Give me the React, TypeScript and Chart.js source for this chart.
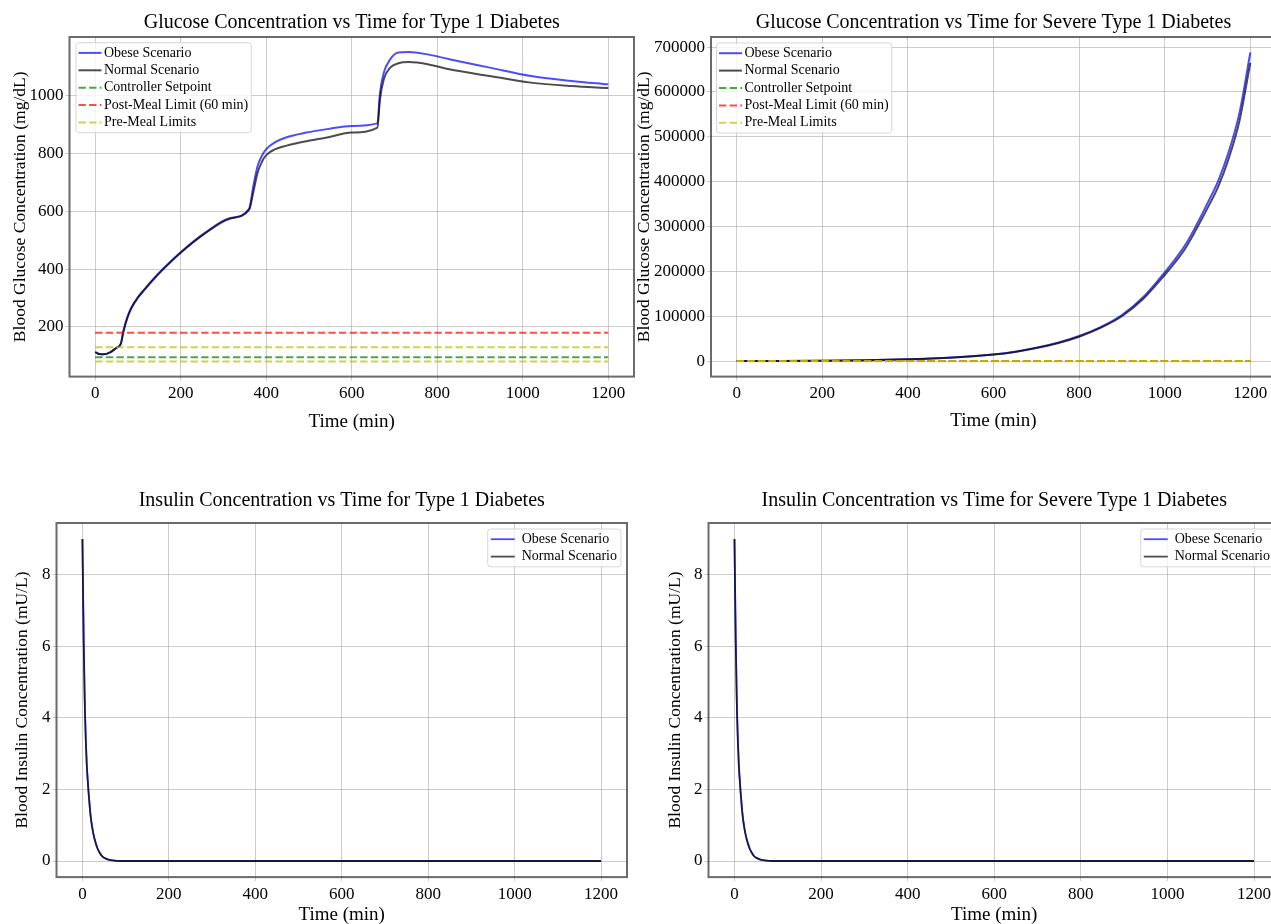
import React, { useEffect, useRef } from 'react';
import { Chart, registerables } from 'chart.js';

Chart.register(...registerables);

const FONT = '"Liberation Serif", "Times New Roman", Times, serif';

// ---------- Data ----------
const xTicks = [0, 200, 400, 600, 800, 1000, 1200];

// Glucose, Type 1 diabetes
const t1Time = [0, 10, 20, 35, 50, 60, 66, 75, 85, 100, 115, 130, 160, 200, 256, 313, 360, 370, 380, 390, 400, 420, 446, 494, 542, 600, 660, 666, 675, 690, 709, 733, 780, 828, 923, 1019, 1114, 1200];
const t1Obese = [113, 106, 105, 112, 128, 142, 185, 232, 268, 303, 330, 356, 403, 459, 525, 576, 609, 689, 758, 793, 816, 839, 856, 873, 885, 896, 905, 1011, 1081, 1127, 1150, 1152, 1143, 1127, 1098, 1069, 1052, 1040];
const t1Normal = [113, 106, 105, 112, 128, 141, 183, 230, 266, 301, 328, 354, 401, 457, 523, 574, 606, 668, 735, 772, 795, 815, 827, 843, 856, 873, 890, 988, 1058, 1098, 1113, 1117, 1109, 1092, 1069, 1046, 1034, 1027];
const t1GlucoseTicks = [200, 400, 600, 800, 1000];

// Glucose, severe Type 1 diabetes
const sevTime = [0, 100, 200, 300, 400, 500, 600, 650, 700, 750, 800, 850, 900, 950, 1000, 1025, 1050, 1075, 1100, 1125, 1150, 1175, 1200];
const sevObese = [110, 400, 1000, 2100, 4300, 8000, 15000, 21000, 30000, 41000, 56000, 76000, 103000, 143000, 198000, 228000, 262000, 305000, 352000, 402000, 468000, 555000, 688000];
const sevNormal = [110, 390, 980, 2050, 4200, 7800, 14600, 20500, 29200, 40000, 54500, 74000, 100000, 139000, 192000, 221000, 254000, 296000, 341000, 389000, 453000, 537000, 665000];
const sevGlucoseTicks = [0, 100000, 200000, 300000, 400000, 500000, 600000, 700000];

// Reference limits (mg/dL)
const limitSpan = [0, 1200];
const controllerSetpoint = 95;
const postMealLimit = 180;
const preMealLimits = [130, 80];

// Insulin
const insTime = [0, 1, 2, 3, 4, 5, 6, 8, 10, 12, 14, 17, 20, 25, 30, 35, 40, 45, 50, 60, 70, 80, 100, 200, 400, 600, 800, 1000, 1200];
const insObese = [9.0, 8.0, 7.0, 6.1, 5.4, 4.7, 4.1, 3.3, 2.7, 2.3, 1.95, 1.5, 1.15, 0.78, 0.53, 0.35, 0.23, 0.14, 0.09, 0.04, 0.015, 0.005, 0, 0, 0, 0, 0, 0, 0];
const insNormal = [9.0, 8.0, 7.0, 6.1, 5.4, 4.7, 4.1, 3.3, 2.7, 2.3, 1.95, 1.5, 1.15, 0.78, 0.53, 0.35, 0.23, 0.14, 0.09, 0.04, 0.015, 0.005, 0, 0, 0, 0, 0, 0, 0];
const sevInsObese = [9.0, 8.0, 7.0, 6.1, 5.4, 4.7, 4.1, 3.3, 2.7, 2.3, 1.95, 1.5, 1.15, 0.78, 0.53, 0.35, 0.23, 0.14, 0.09, 0.04, 0.015, 0.005, 0, 0, 0, 0, 0, 0, 0];
const sevInsNormal = [9.0, 8.0, 7.0, 6.1, 5.4, 4.7, 4.1, 3.3, 2.7, 2.3, 1.95, 1.5, 1.15, 0.78, 0.53, 0.35, 0.23, 0.14, 0.09, 0.04, 0.015, 0.005, 0, 0, 0, 0, 0, 0, 0];
const insulinTicks = [0, 2, 4, 6, 8];

// ---------- Styles ----------
const BLUE = 'rgba(0,0,255,0.7)';
const BLACK = 'rgba(0,0,0,0.7)';
const GREEN = 'rgba(0,128,0,0.7)';
const RED = 'rgba(255,0,0,0.7)';
const YELLOW = 'rgba(191,191,0,0.7)';
const GRID = 'rgba(170,170,170,0.6)';
const FRAME = 'rgba(70,70,70,0.8)';
const DASH = [7.4, 3.2];

const TITLE_SIZE = 20;
const TICK_SIZE = 17;
const XLABEL_SIZE = 19;
const YLABEL_SIZE = 17.5;
const LEGEND_SIZE = 14;
const LH = 1.2;

const pts = (xs: number[], ys: number[]) => xs.map((x, i) => ({ x, y: ys[i] }));

type LegendItem = { label: string; color: string; dash?: number[]; width: number };

const framePlugin = {
  id: 'frameAndLegend',
  afterDraw(chart: any, _args: any, opts: any) {
    const { ctx, chartArea } = chart;
    ctx.save();
    ctx.strokeStyle = FRAME;
    ctx.lineWidth = 2;
    ctx.strokeRect(chartArea.left, chartArea.top, chartArea.right - chartArea.left, chartArea.bottom - chartArea.top);
    ctx.restore();

    const lg = opts && opts.legend;
    if (!lg) return;
    const items: LegendItem[] = lg.items;
    ctx.save();
    ctx.font = `${LEGEND_SIZE}px ${FONT}`;
    const textW = Math.max(...items.map((it) => ctx.measureText(it.label).width));
    const w = lg.textOffset + textW + lg.padRight;
    const h = items.length * lg.rowH + 2 * lg.padY;
    const x = lg.align === 'left' ? chartArea.left + lg.dx : chartArea.right - lg.dx - w;
    const y = chartArea.top + lg.dy;
    const r = 3;
    ctx.beginPath();
    ctx.moveTo(x + r, y);
    ctx.lineTo(x + w - r, y);
    ctx.arcTo(x + w, y, x + w, y + r, r);
    ctx.lineTo(x + w, y + h - r);
    ctx.arcTo(x + w, y + h, x + w - r, y + h, r);
    ctx.lineTo(x + r, y + h);
    ctx.arcTo(x, y + h, x, y + h - r, r);
    ctx.lineTo(x, y + r);
    ctx.arcTo(x, y, x + r, y, r);
    ctx.closePath();
    ctx.fillStyle = 'rgba(255,255,255,0.8)';
    ctx.fill();
    ctx.strokeStyle = 'rgba(204,204,204,0.8)';
    ctx.lineWidth = 1;
    ctx.stroke();
    items.forEach((it, i) => {
      const cy = y + lg.padY + lg.rowH * (i + 0.5);
      ctx.beginPath();
      ctx.setLineDash(it.dash || []);
      ctx.strokeStyle = it.color;
      ctx.lineWidth = it.width;
      ctx.lineCap = 'butt';
      ctx.moveTo(x + lg.handleX, cy);
      ctx.lineTo(x + lg.handleX + lg.handleLen, cy);
      ctx.stroke();
      ctx.setLineDash([]);
      ctx.fillStyle = '#000';
      ctx.textBaseline = 'middle';
      ctx.textAlign = 'left';
      ctx.fillText(it.label, x + lg.textOffset, cy);
    });
    ctx.restore();
  },
};

type PanelSpec = {
  key: string;
  frame: [number, number, number, number];
  yLabelX: number;
  xLabelY: number;
  titleY: number;
  title: string;
  yLabel: string;
  yMin: number;
  yMax: number;
  yTicks: number[];
  datasets: any[];
  legend: any;
};

function geometry(p: PanelSpec) {
  const [fl, ft, fr, fb] = p.frame;
  const left = p.yLabelX - (YLABEL_SIZE * LH) / 2;
  const top = p.titleY - (TITLE_SIZE * LH) / 2 - 4;
  const right = fr + 4;
  const bottom = p.xLabelY + (XLABEL_SIZE * LH) / 2 + 2;
  return {
    left,
    top,
    width: right - left,
    height: bottom - top,
    yAxisW: fl - left,
    xAxisH: bottom - fb,
    titlePadBottom: ft - top - 4 - TITLE_SIZE * LH,
  };
}

function glucoseDatasets(time: number[], obese: number[], normal: number[]) {
  const line = { pointRadius: 0, borderWidth: 2, cubicInterpolationMode: 'monotone', borderJoinStyle: 'round', fill: false };
  const dashed = { pointRadius: 0, borderWidth: 2, borderDash: DASH, fill: false };
  return [
    { ...line, label: 'Obese Scenario', data: pts(time, obese), borderColor: BLUE, order: 6 },
    { ...line, label: 'Normal Scenario', data: pts(time, normal), borderColor: BLACK, order: 5 },
    { ...dashed, label: 'Controller Setpoint', data: pts(limitSpan, limitSpan.map(() => controllerSetpoint)), borderColor: GREEN, order: 4 },
    { ...dashed, label: 'Post-Meal Limit (60 min)', data: pts(limitSpan, limitSpan.map(() => postMealLimit)), borderColor: RED, order: 3 },
    { ...dashed, label: 'Pre-Meal Limits', data: pts(limitSpan, limitSpan.map(() => preMealLimits[0])), borderColor: YELLOW, order: 2 },
    { ...dashed, label: 'Pre-Meal Limits', data: pts(limitSpan, limitSpan.map(() => preMealLimits[1])), borderColor: YELLOW, order: 1 },
  ];
}

function insulinDatasets(time: number[], obese: number[], normal: number[]) {
  const line = { pointRadius: 0, borderWidth: 1.8, cubicInterpolationMode: 'monotone', borderJoinStyle: 'round', fill: false };
  return [
    { ...line, label: 'Obese Scenario', data: pts(time, obese), borderColor: BLUE, order: 2 },
    { ...line, label: 'Normal Scenario', data: pts(time, normal), borderColor: BLACK, order: 1 },
  ];
}

function legendItems(datasets: any[]): LegendItem[] {
  const seen = new Set<string>();
  const out: LegendItem[] = [];
  datasets.forEach((d) => {
    if (seen.has(d.label)) return;
    seen.add(d.label);
    out.push({ label: d.label, color: d.borderColor, dash: d.borderDash, width: d.borderWidth });
  });
  return out;
}

const glucoseLegend = { align: 'left', dx: 6.5, dy: 5.7, padY: 1.5, rowH: 17.4, handleX: 2.5, handleLen: 23, textOffset: 28, padRight: 3 };
const insulinLegend = { align: 'right', dx: 6, dy: 6, padY: 1.5, rowH: 17.4, handleX: 3, handleLen: 24, textOffset: 34, padRight: 4 };

const t1Glu = glucoseDatasets(t1Time, t1Obese, t1Normal);
const sevGlu = glucoseDatasets(sevTime, sevObese, sevNormal);
const t1Ins = insulinDatasets(insTime, insObese, insNormal);
const sevIns = insulinDatasets(insTime, sevInsObese, sevInsNormal);

const panels: PanelSpec[] = [
  {
    key: 'p1', frame: [69, 37, 633, 377], yLabelX: 20, xLabelY: 422, titleY: 23,
    title: 'Glucose Concentration vs Time for Type 1 Diabetes',
    yLabel: 'Blood Glucose Concentration (mg/dL)',
    yMin: 28, yMax: 1204, yTicks: t1GlucoseTicks, datasets: t1Glu,
    legend: { ...glucoseLegend, items: legendItems(t1Glu) },
  },
  {
    key: 'p2', frame: [710.5, 37, 1275, 377], yLabelX: 644, xLabelY: 421, titleY: 23,
    title: 'Glucose Concentration vs Time for Severe Type 1 Diabetes',
    yLabel: 'Blood Glucose Concentration (mg/dL)',
    yMin: -34400, yMax: 722400, yTicks: sevGlucoseTicks, datasets: sevGlu,
    legend: { ...glucoseLegend, dx: 5.5, dy: 6, items: legendItems(sevGlu) },
  },
  {
    key: 'p3', frame: [56, 523, 626, 877], yLabelX: 22, xLabelY: 914.5, titleY: 501,
    title: 'Insulin Concentration vs Time for Type 1 Diabetes',
    yLabel: 'Blood Insulin Concentration (mU/L)',
    yMin: -0.45, yMax: 9.45, yTicks: insulinTicks, datasets: t1Ins,
    legend: { ...insulinLegend, items: legendItems(t1Ins) },
  },
  {
    key: 'p4', frame: [708, 523, 1279, 877], yLabelX: 675, xLabelY: 914.5, titleY: 501,
    title: 'Insulin Concentration vs Time for Severe Type 1 Diabetes',
    yLabel: 'Blood Insulin Concentration (mU/L)',
    yMin: -0.45, yMax: 9.45, yTicks: insulinTicks, datasets: sevIns,
    legend: { ...insulinLegend, items: legendItems(sevIns) },
  },
];

function Panel({ spec }: { spec: PanelSpec }) {
  const ref = useRef<HTMLCanvasElement | null>(null);
  const g = geometry(spec);
  useEffect(() => {
    if (!ref.current) return;
    const chart = new Chart(ref.current, {
      type: 'line',
      data: { datasets: spec.datasets },
      plugins: [framePlugin],
      options: {
        responsive: false,
        animation: false,
        devicePixelRatio: 1,
        layout: { padding: { left: 0, right: 4, top: 0, bottom: 0 } },
        plugins: {
          legend: { display: false },
          tooltip: { enabled: false },
          title: {
            display: true,
            text: spec.title,
            fullSize: false,
            color: '#000',
            font: { family: FONT, size: TITLE_SIZE, weight: 'normal', lineHeight: LH },
            padding: { top: 4, bottom: g.titlePadBottom },
          },
          frameAndLegend: { legend: spec.legend },
        } as any,
        scales: {
          x: {
            type: 'linear',
            min: -60,
            max: 1260,
            afterBuildTicks: (s: any) => {
              s.ticks = xTicks.map((v) => ({ value: v }));
            },
            afterFit: (s: any) => {
              s.height = g.xAxisH;
            },
            ticks: {
              autoSkip: false,
              maxRotation: 0,
              color: '#000',
              padding: 3,
              font: { family: FONT, size: TICK_SIZE },
              callback: (v: any) => String(v),
            },
            grid: { color: GRID, lineWidth: 1, tickLength: 4, drawTicks: true },
            border: { display: false },
            title: {
              display: true,
              text: 'Time (min)',
              color: '#000',
              font: { family: FONT, size: XLABEL_SIZE, lineHeight: LH },
              padding: { top: 0, bottom: 2 },
            },
          },
          y: {
            type: 'linear',
            min: spec.yMin,
            max: spec.yMax,
            afterBuildTicks: (s: any) => {
              s.ticks = spec.yTicks.map((v) => ({ value: v }));
            },
            afterFit: (s: any) => {
              s.width = g.yAxisW;
            },
            ticks: {
              autoSkip: false,
              color: '#000',
              padding: 2,
              font: { family: FONT, size: TICK_SIZE },
              callback: (v: any) => String(v),
            },
            grid: { color: GRID, lineWidth: 1, tickLength: 4, drawTicks: true },
            border: { display: false },
            title: {
              display: true,
              text: spec.yLabel,
              color: '#000',
              font: { family: FONT, size: YLABEL_SIZE, lineHeight: LH },
              padding: { top: 0, bottom: 0 },
            },
          },
        },
      } as any,
    });
    return () => chart.destroy();
  }, []);
  return (
    <canvas
      ref={ref}
      width={Math.round(g.width)}
      height={Math.round(g.height)}
      style={{ position: 'absolute', left: g.left, top: g.top, width: Math.round(g.width), height: Math.round(g.height) }}
    />
  );
}

export default function App() {
  return (
    <div
      style={{
        position: 'fixed',
        left: 0,
        top: 0,
        width: 1271,
        height: 924,
        overflow: 'hidden',
        background: '#fff',
      }}
    >
      {panels.map((p) => (
        <Panel key={p.key} spec={p} />
      ))}
    </div>
  );
}
